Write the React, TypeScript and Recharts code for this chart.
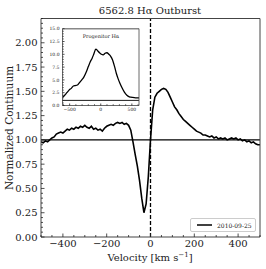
import React from 'react';
import { LineChart, Line, XAxis, YAxis, ReferenceLine, Legend } from 'recharts';

const velocity = [
  -500, -490, -480, -470, -460, -450, -440, -430, -420, -410,
  -400, -390, -380, -370, -360, -350, -340, -330, -320, -310,
  -300, -290, -280, -270, -260, -250, -240, -230, -220, -210,
  -200, -190, -180, -170, -160, -150, -140, -130, -120, -110,
  -100, -90, -80, -70, -60, -50, -40, -30, -20, -10,
  0, 10, 20, 30, 40, 50, 60, 70, 80, 90,
  100, 110, 120, 130, 140, 150, 160, 170, 180, 190,
  200, 210, 220, 230, 240, 250, 260, 270, 280, 290,
  300, 310, 320, 330, 340, 350, 360, 370, 380, 390,
  400, 410, 420, 430, 440, 450, 460, 470, 480, 490, 500,
];
const flux = [
  0.98, 0.97, 0.99, 0.98, 1.0, 1.02, 1.03, 1.06, 1.07, 1.08,
  1.07, 1.09, 1.11, 1.1, 1.12, 1.11, 1.13, 1.12, 1.14, 1.13,
  1.15, 1.13, 1.12, 1.14, 1.11, 1.12, 1.1, 1.11, 1.09, 1.12,
  1.14, 1.15, 1.16, 1.15, 1.17, 1.18, 1.17, 1.18, 1.16, 1.17,
  1.15, 1.1, 0.98, 0.85, 0.73, 0.58, 0.4, 0.25, 0.34, 0.62,
  1.0, 1.31, 1.44, 1.48, 1.5, 1.52, 1.53, 1.52, 1.49, 1.44,
  1.39, 1.34, 1.31, 1.27, 1.24, 1.21, 1.19, 1.17, 1.15, 1.13,
  1.11, 1.09, 1.08, 1.07, 1.05, 1.05, 1.04, 1.03, 1.04, 1.02,
  1.03, 1.01, 1.02, 1.01, 1.02, 1.0, 1.01, 1.02, 1.01, 1.02,
  1.0, 1.01, 0.99, 1.0, 0.98, 0.99, 0.97, 0.98, 0.96, 0.95, 0.95,
];
const seriesName = '2010-09-25';

const progenitorVelocity = [
  -615, -580, -545, -510, -470, -440, -410, -375, -340, -305,
  -270, -235, -200, -170, -140, -110, -80, -50, -20, 10,
  40, 70, 100, 130, 160, 190, 220, 250, 280, 310,
  340, 380, 420, 460, 500, 560, 615,
];
const progenitorFlux = [
  1.6, 2.0, 2.5, 3.0, 3.4, 3.8, 3.9, 4.0, 4.5, 5.0,
  5.6, 6.5, 7.6, 8.5, 9.2, 10.1, 11.0, 10.7, 10.3, 10.0,
  9.9, 10.2, 10.3, 10.0, 9.6, 8.9, 7.7, 6.3, 5.2, 4.3,
  3.5, 2.6, 2.0, 1.7, 1.6, 1.5, 1.5,
];

const mainXMajor = [-400, -200, 0, 200, 400];
const mainXTicks = [
  -500, -450, -400, -350, -300, -250, -200, -150, -100, -50,
  0, 50, 100, 150, 200, 250, 300, 350, 400, 450, 500,
];
const mainYMajor = [0, 0.25, 0.5, 0.75, 1.0, 1.25, 1.5, 1.75, 2.0];
const mainYTicks = [
  0, 0.05, 0.1, 0.15, 0.2, 0.25, 0.3, 0.35, 0.4, 0.45,
  0.5, 0.55, 0.6, 0.65, 0.7, 0.75, 0.8, 0.85, 0.9, 0.95,
  1.0, 1.05, 1.1, 1.15, 1.2, 1.25, 1.3, 1.35, 1.4, 1.45,
  1.5, 1.55, 1.6, 1.65, 1.7, 1.75, 1.8, 1.85, 1.9, 1.95,
  2.0, 2.05, 2.1, 2.15, 2.2, 2.25,
];
const insetXMajor = [-500, 0, 500];
const insetXTicks = [-600, -500, -400, -300, -200, -100, 0, 100, 200, 300, 400, 500, 600];
const insetYMajor = [0, 2.5, 5, 7.5, 10, 12.5, 15];
const insetYTicks = [
  0, 0.5, 1, 1.5, 2, 2.5, 3, 3.5, 4, 4.5, 5, 5.5, 6, 6.5, 7, 7.5,
  8, 8.5, 9, 9.5, 10, 10.5, 11, 11.5, 12, 12.5, 13, 13.5, 14, 14.5, 15,
];

const mainData = velocity.map((v, i) => ({ v, f: flux[i] }));
const insetData = progenitorVelocity.map((v, i) => ({ v, f: progenitorFlux[i] }));

const FONT = "'DejaVu Serif', serif";
const FRAME = '#444';

const fmtSigned = (v: number) => (v < 0 ? '\u2212' + Math.abs(v) : String(v));

function isIn(list: number[], v: number) {
  return list.some((m) => Math.abs(m - v) < 1e-6);
}

function makeLeftTick(majors: number[], len: number, minorLen: number, fs: number, gap: number, digits: number) {
  return (props: any) => {
    const { x, y, payload } = props;
    const v = payload.value;
    const major = isIn(majors, v);
    const L = major ? len : minorLen;
    return (
      <g>
        <line x1={x} y1={y} x2={x + L} y2={y} stroke="#222" strokeWidth={0.8} />
        {major && (
          <text x={x - gap} y={y} dy="0.36em" textAnchor="end" fontFamily={FONT} fontSize={fs} fill="#222">
            {v.toFixed(digits)}
          </text>
        )}
      </g>
    );
  };
}

function makeBottomTick(majors: number[], len: number, minorLen: number, fs: number, gap: number) {
  return (props: any) => {
    const { x, y, payload } = props;
    const v = payload.value;
    const major = isIn(majors, v);
    const L = major ? len : minorLen;
    return (
      <g>
        <line x1={x} y1={y} x2={x} y2={y - L} stroke="#222" strokeWidth={0.8} />
        {major && (
          <text x={x} y={y + gap} dy="0.72em" textAnchor="middle" fontFamily={FONT} fontSize={fs} fill="#222">
            {fmtSigned(v)}
          </text>
        )}
      </g>
    );
  };
}

const LegendBox = (props: any) => {
  const item = (props.payload || [])[0];
  return (
    <div
      style={{
        width: 66,
        height: 14,
        boxSizing: 'border-box',
        border: '1px solid #ccc',
        borderRadius: 2,
        background: '#fff',
        display: 'flex',
        alignItems: 'center',
        fontFamily: FONT,
        fontSize: 6,
        color: '#222',
      }}
    >
      <svg width={26} height={12}>
        <line x1={6} y1={6} x2={21} y2={6} stroke={item ? item.color : '#000'} strokeWidth={1.5} />
      </svg>
      <span>{item ? item.value : seriesName}</span>
    </div>
  );
};

export default function App() {
  return (
    <div style={{ position: 'absolute', left: 0, top: 0, width: 266, height: 269, background: '#fff' }}>
      <div style={{ position: 'absolute', left: 0, top: 0 }}>
        <LineChart width={266} height={269} data={mainData} margin={{ top: 17.5, right: 5, bottom: 31, left: 40 }}>
          <XAxis
            xAxisId="b"
            dataKey="v"
            type="number"
            domain={[-500, 500]}
            allowDataOverflow
            ticks={mainXTicks}
            interval={0}
            height={1}
            tickSize={0}
            tickMargin={0}
            axisLine={{ stroke: FRAME, strokeWidth: 1 }}
            tickLine={false}
            tick={makeBottomTick(mainXMajor, 3.5, 2, 10, 3)}
          />
          <XAxis
            xAxisId="t"
            orientation="top"
            dataKey="v"
            type="number"
            domain={[-500, 500]}
            allowDataOverflow
            height={1}
            tick={false}
            tickLine={false}
            axisLine={{ stroke: FRAME, strokeWidth: 1 }}
          />
          <YAxis
            yAxisId="l"
            type="number"
            domain={[0, 2.25]}
            allowDataOverflow
            ticks={mainYTicks}
            interval={0}
            width={1}
            tickSize={0}
            tickMargin={0}
            axisLine={{ stroke: FRAME, strokeWidth: 1 }}
            tickLine={false}
            tick={makeLeftTick(mainYMajor, 3.5, 2, 10, 3.5, 2)}
          />
          <YAxis
            yAxisId="r"
            orientation="right"
            type="number"
            domain={[0, 2.25]}
            allowDataOverflow
            width={1}
            tick={false}
            tickLine={false}
            axisLine={{ stroke: FRAME, strokeWidth: 1 }}
          />
          <ReferenceLine xAxisId="b" yAxisId="l" y={1} stroke="#000" strokeWidth={1.1} />
          <ReferenceLine xAxisId="b" yAxisId="l" x={0} stroke="#000" strokeWidth={1.3} strokeDasharray="4 2" />
          <Line
            xAxisId="b"
            yAxisId="l"
            dataKey="f"
            name={seriesName}
            stroke="#000"
            strokeWidth={1.6}
            dot={false}
            isAnimationActive={false}
            type="linear"
          />
          <Legend
            layout="horizontal"
            verticalAlign="middle"
            align="center"
            content={<LegendBox />}
            wrapperStyle={{ position: 'absolute', left: 190, top: 218, width: 66, height: 14 }}
          />
        </LineChart>
      </div>
      <div style={{ position: 'absolute', left: 30, top: 20 }}>
        <LineChart width={112} height={96} data={insetData} margin={{ top: 7.7, right: 2, bottom: 9.5, left: 31.5 }}>
          <XAxis
            xAxisId="b"
            dataKey="v"
            type="number"
            domain={[-615, 615]}
            allowDataOverflow
            ticks={insetXTicks}
            interval={0}
            height={1}
            tickSize={0}
            tickMargin={0}
            axisLine={{ stroke: FRAME, strokeWidth: 0.8 }}
            tickLine={false}
            tick={makeBottomTick(insetXMajor, 2, 1.2, 4.5, 2)}
          />
          <XAxis
            xAxisId="t"
            orientation="top"
            dataKey="v"
            type="number"
            domain={[-615, 615]}
            allowDataOverflow
            height={1}
            tick={false}
            tickLine={false}
            axisLine={{ stroke: '#888', strokeWidth: 1.4 }}
          />
          <YAxis
            yAxisId="l"
            type="number"
            domain={[0, 15]}
            allowDataOverflow
            ticks={insetYTicks}
            interval={0}
            width={1}
            tickSize={0}
            tickMargin={0}
            axisLine={{ stroke: FRAME, strokeWidth: 0.8 }}
            tickLine={false}
            tick={makeLeftTick(insetYMajor, 2, 1.2, 4.5, 3, 1)}
          />
          <YAxis
            yAxisId="r"
            orientation="right"
            type="number"
            domain={[0, 15]}
            allowDataOverflow
            width={1}
            tick={false}
            tickLine={false}
            axisLine={{ stroke: FRAME, strokeWidth: 0.8 }}
          />
          <ReferenceLine xAxisId="b" yAxisId="l" y={1} stroke="#000" strokeWidth={0.9} />
          <Line
            xAxisId="b"
            yAxisId="l"
            dataKey="f"
            stroke="#000"
            strokeWidth={1.3}
            dot={false}
            isAnimationActive={false}
            type="monotone"
          />
        </LineChart>
      </div>
      <svg width={266} height={269} style={{ position: 'absolute', left: 0, top: 0, pointerEvents: 'none' }}>
        <text x={150} y={14} textAnchor="middle" fontFamily={FONT} fontSize={10} fill="#222">
          6562.8 Hα Outburst
        </text>
        <text x={101} y={38} textAnchor="middle" fontFamily={FONT} fontSize={5} fill="#222">
          Progenitor Hα
        </text>
        <text
          x={0}
          y={0}
          transform="translate(12.5,128) rotate(-90)"
          textAnchor="middle"
          fontFamily={FONT}
          fontSize={10.5}
          fill="#222"
        >
          Normalized Continuum
        </text>
        <text x={150} y={261} textAnchor="middle" fontFamily={FONT} fontSize={10} fill="#222">
          Velocity [km s
          <tspan dy={-4} fontSize={7}>
            −1
          </tspan>
          <tspan dy={4}>]</tspan>
        </text>
      </svg>
    </div>
  );
}
